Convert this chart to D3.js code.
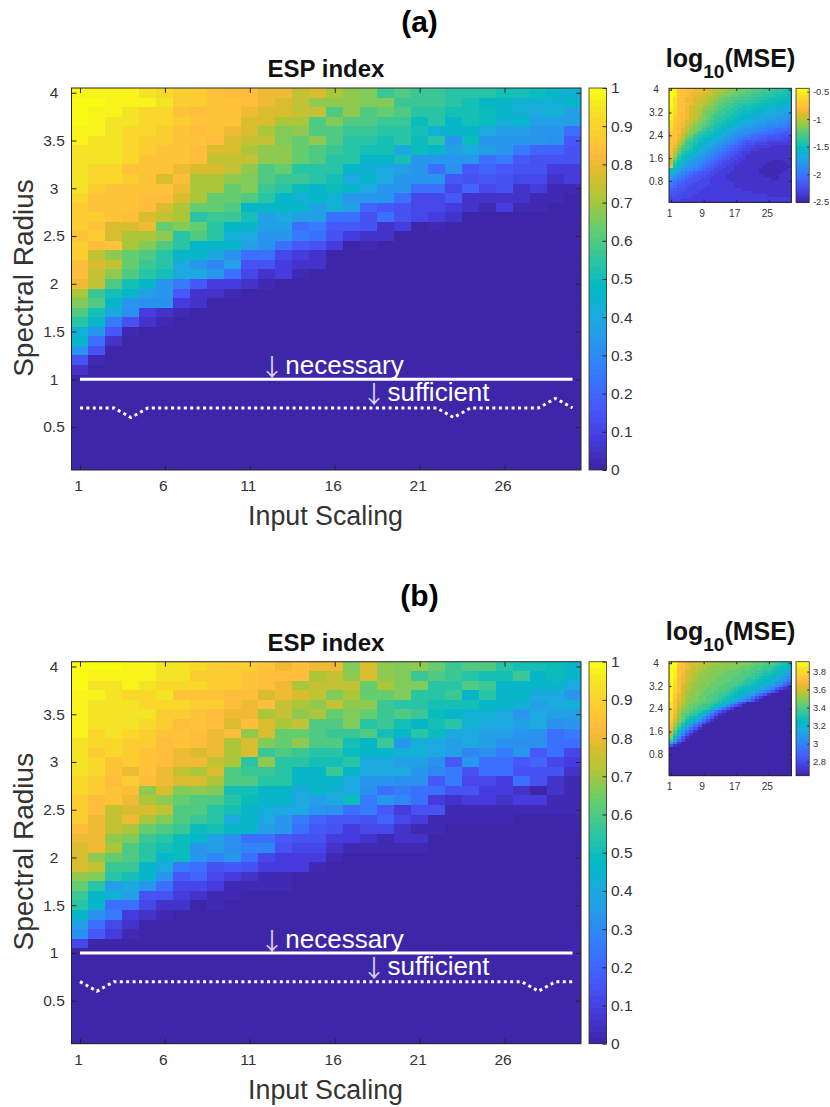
<!DOCTYPE html>
<html>
<head>
<meta charset="utf-8">
<script src="https://cdnjs.cloudflare.com/ajax/libs/d3/7.8.5/d3.min.js"></script>
<style>
  html, body { margin: 0; padding: 0; background: #fff; }
  text { font-family: "Liberation Sans", Arial, sans-serif; fill: #333; }
  .domain { display: none; }
  .tick line { stroke: #262626; stroke-width: 1; }
</style>
</head>
<body>
<div id="visualization"></div>
<script>
// one string per row, top row (radius 4.0) first,
// one base 36 digit per input scaling 1..30: 0 = bottom of colour bar, z = top
const espA = [
  "yyyyxwvvuttssqrponklkkjjjiihgf",
  "zzyyyxvvuutsrqooonnkkkjiggfffg",
  "zyyxwwutuusrrqqlolmljjiihgfefd",
  "zyxxwwvuuurrpplnllkkhjgihfgddd",
  "yyxwwvutusrpnollkkjjifggeddcc8",
  "yxxwvvuutrqqnmoljjijhjchccccb6",
  "xxxwvuutrrpoomlkjiiehgdedc9775",
  "xxxwuuutqqqoomljjggicccc896555",
  "xwwuuusrrqolmjjjgfedc8b6765533",
  "xwwvurtpponlkkjiegeccc65654423",
  "xvuuuusppmnkjhghgecc8847452311",
  "wuuuttrpmmljgfgfccc84462222110",
  "vuuutrpmmlggggdfd7654432131100",
  "vvutrqpjkkidedd885854320000000",
  "vurrsmnmjggdd89665230100000000",
  "uvrppojljfecc98532200000000000",
  "vtupnljgggdb865301000000000000",
  "vqomljggeb88432000000000000000",
  "trqmkjecad55322000000000000000",
  "tqoljieec842310000000000000000",
  "sqligc963321000000000000000000",
  "pkigdc622100000000000000000000",
  "nlgcbb320000000000000000000000",
  "lieb32100000000000000000000000",
  "jg9521000000000000000000000000",
  "fc6100000000000000000000000000",
  "g82000000000000000000000000000",
  "c50000000000000000000000000000",
  "510000000000000000000000000000",
  "200000000000000000000000000000",
  "000000000000000000000000000000",
  "000000000000000000000000000000",
  "000000000000000000000000000000",
  "000000000000000000000000000000",
  "000000000000000000000000000000",
  "000000000000000000000000000000",
  "000000000000000000000000000000",
  "000000000000000000000000000000",
  "000000000000000000000000000000",
  "000000000000000000000000000000"
];
const espB = [
  "zzzyyxxwvvvustssnronomklljiihg",
  "zyyyyxxvvvutttpqoronklkjiikghg",
  "zxxyxwwwvvutspqqqmpnnjjlkgggge",
  "yyxwwxuuuttrsrqnpmmnjjkgjggeec",
  "yxxxwwwvvtstqpoqookjjiiiggfdef",
  "yxxxxvvutsspqopmnmklkhgffecedd",
  "yxxxwvtutrtrpqllnjkigijfeedebc",
  "ywxwvuutstormmlkkligjheeddcb89",
  "xwwvvtutsprnmolligkcfededbbb88",
  "xvwvutsrsprklkjjhggffedab9c684",
  "xwuvutssqpjojjiijeeddb6c886743",
  "xwususqprlkkjggkgeeeca95885552",
  "wvtvtsrrplljjgggeccbb694438521",
  "wvutornoniiggegfeb898855332021",
  "vtuspomlljhggedeh9ca8323323311",
  "vtqrrqlljigfeecb89635511111111",
  "vsqspnlkjegec97665743111110000",
  "tsqpmlkhiggdc86534421100000000",
  "ssonkjhgdb88655332122000000000",
  "rspljihcdbaa544211111000000000",
  "romljghcac84333100000000000000",
  "rqkkge985653331000000000000000",
  "onjigc674321100000000000000000",
  "mjdec8443111100000000000000000",
  "kgfd55321100000000000000000000",
  "jg8842201000000000000000000000",
  "gb9321000000000000000000000000",
  "d84200000000000000000000000000",
  "b63100000000000000000000000000",
  "400000000000000000000000000000",
  "000000000000000000000000000000",
  "000000000000000000000000000000",
  "000000000000000000000000000000",
  "000000000000000000000000000000",
  "000000000000000000000000000000",
  "000000000000000000000000000000",
  "000000000000000000000000000000",
  "000000000000000000000000000000",
  "000000000000000000000000000000",
  "000000000000000000000000000000"
];
const mseA = [
  "zyuuttsssrqqpponnmmmlllkkkjjji",
  "zyuutsssrrqpponnmmmlllkkkjjjii",
  "zyuutssrrqqponnmmlllkkkjjjiiih",
  "zxutssrrqpponmmlllkkkjjjiiihhh",
  "zxutssrqqponmmllkkkjjjiiihhhgg",
  "zxuttsrqpponmllkkjjjiiihhhgggf",
  "zxutsrqqponmllkkjjiiihhhgggfff",
  "yxutsrqponnmlkkjjiiihhggfffeee",
  "ywutsrqpnmmlkkjjiihhgggffeeedd",
  "ywutsrqpnmlkkjjiihggfffeeeddcc",
  "yvutsrqonmlkjjiihggfeeedddcccb",
  "xvutrqpnmlkjjihhgffeedddcccbba",
  "xutsrqonmlkjiihggfeeddccbbbaa9",
  "xutsqpnmlkjiihgffeddccbbaaa998",
  "wutrqonmkjjihgfeedccbbaa998887",
  "vutrpnmkjiihgfedccbba998887766",
  "uusqomkjiihgfedcbaa98877666555",
  "uusqmljihggfedcba9887766555544",
  "utrolkjhgffedcba98766555444443",
  "utqnkjigfeedcba987655444333333",
  "usplkjhgfedcba9876544333322222",
  "trnkjigfedcba98765443322222222",
  "tqmjihgedcba987654332222222222",
  "spkihgfdcba9876544322222222222",
  "smjhgedcba98765443322222222222",
  "qkihfdcba987654433222222211122",
  "pjhfdcba987654433222222211111"+"2",
  "sihedcb98765443322222221111111"+"2",
  "hgecba987654433322222211111112"+"",
  "geca98765544333222222211111122",
  "eca987655443332222222221111222",
  "ca9876554433332222222222211222",
  "a98765544433333222222222222222",
  "987655444433333322222222222222",
  "876654444333333322222222222222",
  "765544443333333333222222222222",
  "655444433333333333332222222222",
  "554444333333333333333333222222",
  "444443333333333333333333333333",
  "444333333333333333333333333333"
];
const mseB = [
  "zzutsrrqqpppoooonnnnmmmlllkjih",
  "zzutsrqqppoooonnnnmmmlllkkjihg",
  "zzutsrqppoooonnnnmmmlllkkjihgg",
  "zyutrqqpoonnnnmmmmlllkkjjihgfe",
  "zyusrqpooonnnmmmmlllkkjiihgfed",
  "zytsrqpoonnnmmmmlllkkjihhgfecb",
  "zxtsrqpoonnmmmmlllkjjihggfecb9",
  "zxtsqpoonnmmmmlllkjjihggfecb86",
  "zwtrqpoonnmmmlllkjiihgfedcb853",
  "ywtrqponnmmmlllkjihhgfedca6421",
  "ywtrpoonmmmlllkjihgfedca853000",
  "yvsqpoonmmllkkjihgfeda85200000",
  "yvsqponmmlllkjihgfdb8530000000",
  "yusqonnmmllkjihgeca85200000000",
  "xurqonmmllkjigfda6300000000000",
  "xurpnmmlkkjhgeb853000000000000",
  "xtqonmlkkjhfb85300000000000000",
  "wtpnmlkjhfc8531000000000000000",
  "wspmlkjhfb85210000000000000000",
  "wsomkihfb852000000000000000000",
  "vrnlihfc8520000000000000000000",
  "uqmjgeb85200000000000000000000",
  "tpligc851000000000000000000000",
  "snjfb8520000000000000000000000",
  "rlgc85200000000000000000000000",
  "pjea52000000000000000000000000",
  "ngb520000000000000000000000000",
  "kd7410000000000000000000000000",
  "f83000000000000000000000000000",
  "521000000000000000000000000000",
  "000000000000000000000000000000",
  "000000000000000000000000000000",
  "000000000000000000000000000000",
  "000000000000000000000000000000",
  "000000000000000000000000000000",
  "000000000000000000000000000000",
  "000000000000000000000000000000",
  "000000000000000000000000000000",
  "000000000000000000000000000000",
  "000000000000000000000000000000"
];

const inputScaling = d3.range(1, 31);
const necessary = [1, 1, 1, 1, 1, 1, 1, 1, 1, 1, 1, 1, 1, 1, 1, 1, 1, 1, 1, 1, 1, 1, 1, 1, 1, 1, 1, 1, 1, 1];
const sufficientA = [0.7, 0.7, 0.7, 0.6, 0.7, 0.7, 0.7, 0.7, 0.7, 0.7, 0.7, 0.7, 0.7, 0.7, 0.7, 0.7, 0.7, 0.7, 0.7, 0.7, 0.7, 0.7, 0.6, 0.7, 0.7, 0.7, 0.7, 0.7, 0.8, 0.7];
const sufficientB = [0.7, 0.6, 0.7, 0.7, 0.7, 0.7, 0.7, 0.7, 0.7, 0.7, 0.7, 0.7, 0.7, 0.7, 0.7, 0.7, 0.7, 0.7, 0.7, 0.7, 0.7, 0.7, 0.7, 0.7, 0.7, 0.7, 0.7, 0.6, 0.7, 0.7];

const mainXTicks = [1, 6, 11, 16, 21, 26];
const mainYTicks = [0.5, 1, 1.5, 2, 2.5, 3, 3.5, 4];
const espBarTicks = [0, 0.1, 0.2, 0.3, 0.4, 0.5, 0.6, 0.7, 0.8, 0.9, 1];
const smallXTicks = [1, 9, 17, 25];
const smallYTicks = [0.8, 1.6, 2.4, 3.2, 4];
const mseBarTicksA = [-2.5, -2, -1.5, -1, -0.5];
const mseBarTicksB = [2.8, 3, 3.2, 3.4, 3.6, 3.8];
const mseRangeA = [-2.51, -0.44];
const mseRangeB = [2.644, 3.91];

// parula, picked entries of the 64 level map
const parulaIdx = [0, 5, 10, 15, 20, 25, 30, 35, 40, 45, 50, 52, 53, 55, 60, 63];
const parulaCol = ["#3e26a8", "#463cde", "#4758f8", "#3875fe", "#2b91ef", "#1ca9df", "#02bac3", "#31c69f", "#64cd6f", "#abc739", "#e6bb2d", "#f8ba3d", "#febe3c", "#fec833", "#f5e326", "#f9fb15"];
const parula = d3.scaleLinear().domain(parulaIdx).range(parulaCol);
const level = t => parula(Math.min(63, Math.floor(t * 64)));

const svg = d3.select("#visualization").append("svg")
    .attr("width", 830)
    .attr("height", 1107)
    .style("display", "block");

function heatmap(rows, box, xTicks, yTicks, fontSize, tickLen, yLabelX, xLabelY) {
    const x = d3.scaleLinear().domain([0.5, 30.5]).range([box.left, box.right]);
    const y = d3.scaleLinear().domain([0.05, 4.05]).range([box.bottom, box.top]);
    const g = svg.append("g");

    rows.forEach((row, r) => {
        const radius = (40 - r) / 10;
        inputScaling.forEach((s, c) => {
            g.append("rect")
                .attr("x", x(s - 0.5))
                .attr("y", y(radius + 0.05))
                .attr("width", x(s + 0.5) - x(s - 0.5) + 0.4)
                .attr("height", y(radius - 0.05) - y(radius + 0.05) + 0.4)
                .attr("shape-rendering", "crispEdges")
                .attr("fill", level(parseInt(row[c], 36) / 35));
        });
    });

    g.append("g").attr("transform", `translate(0,${box.bottom})`)
        .call(d3.axisBottom(x).tickValues(xTicks).tickSize(-tickLen).tickPadding(xLabelY).tickFormat(String))
        .call(a => a.selectAll("text").attr("font-size", fontSize).attr("dx", -2));
    g.append("g").attr("transform", `translate(0,${box.top})`)
        .call(d3.axisTop(x).tickValues(xTicks).tickSize(-tickLen).tickFormat(""));
    g.append("g").attr("transform", `translate(${box.left},0)`)
        .call(d3.axisLeft(y).tickValues(yTicks).tickSize(-tickLen).tickFormat(String))
        .call(a => a.selectAll("text").attr("font-size", fontSize)
            .attr("text-anchor", "middle").attr("x", yLabelX - box.left));
    g.append("g").attr("transform", `translate(${box.right},0)`)
        .call(d3.axisRight(y).tickValues(yTicks).tickSize(-tickLen).tickFormat(""));

    g.append("rect")
        .attr("x", box.left).attr("y", box.top)
        .attr("width", box.right - box.left).attr("height", box.bottom - box.top)
        .attr("fill", "none").attr("stroke", "#262626").attr("stroke-width", 1);
    return { x, y };
}

function colorbar(box, range, ticks, fontSize, tickLen, labelX) {
    const y = d3.scaleLinear().domain(range).range([box.bottom, box.top]);
    const g = svg.append("g");
    const t = d3.scaleLinear().domain([0, 64]).range([box.bottom, box.top]);
    d3.range(64).forEach(i => {
        g.append("rect")
            .attr("x", box.left)
            .attr("y", t(i + 1))
            .attr("width", box.right - box.left)
            .attr("height", t(i) - t(i + 1) + 0.4)
            .attr("shape-rendering", "crispEdges")
            .attr("fill", parula(i));
    });
    g.append("g").attr("transform", `translate(${box.right},0)`)
        .call(d3.axisRight(y).tickValues(ticks).tickSize(-tickLen).tickFormat(String))
        .call(a => a.selectAll("text").attr("font-size", fontSize).attr("x", labelX - box.right));
    g.append("rect")
        .attr("x", box.left).attr("y", box.top)
        .attr("width", box.right - box.left).attr("height", box.bottom - box.top)
        .attr("fill", "none").attr("stroke", "#333").attr("stroke-width", 0.8);
}

function label(txt, x, y, size, weight, fill) {
    return svg.append("text")
        .attr("x", x).attr("y", y)
        .attr("text-anchor", "middle")
        .attr("font-size", size)
        .attr("font-weight", weight || "normal")
        .style("fill", fill || "#333")
        .text(txt);
}

function arrow(x, y) {
    label("\u2193", x, y, 24, "normal", "#fff")
        .style("font-family", '"Noto Sans CJK JP"')
        .attr("opacity", 0.8);
}

function panel(letter, dy, esp, mse, sufficient, mseRange, mseTicks, mseTop) {
    label(letter, 419.5, 32 + dy, 30, "bold", "#000");
    label("ESP index", 326, 77 + dy, 24, "bold", "#111");

    const main = { left: 71.5, right: 581, top: 88 + dy, bottom: 470 + dy };
    const { x, y } = heatmap(esp, main, mainXTicks, mainYTicks, 15.5, 5, 54, 10);
    colorbar({ left: 589, right: 606.5, top: main.top, bottom: main.bottom }, [0, 1], espBarTicks, 15.5, 4, 611);

    const line = d3.line().x((d, i) => x(inputScaling[i])).y(d => y(d));
    svg.append("path").datum(necessary)
        .attr("d", line).attr("fill", "none")
        .attr("stroke", "#fff").attr("stroke-width", 3);
    svg.append("path").datum(sufficient)
        .attr("d", line).attr("fill", "none")
        .attr("stroke", "#fff").attr("stroke-width", 3)
        .attr("stroke-dasharray", "3,3.4");

    arrow(272, y(1) - 3);
    label("necessary", 344.5, y(1) - 5, 26, "normal", "#fff");
    arrow(374, y(1) + 24);
    label("sufficient", 438.5, y(1) + 22, 26, "normal", "#fff");

    label("Input Scaling", 325.5, 525 + dy, 26.8);
    label("Spectral Radius", 0, 0, 28)
        .attr("transform", `translate(33,${278 + dy}) rotate(-90)`);

    const small = { left: 669, right: 791.3, top: mseTop, bottom: mseTop + 114 };
    heatmap(mse, small, smallXTicks, smallYTicks, 10.2, 2.5, 656, 7);
    colorbar({ left: 796, right: 809.3, top: small.top, bottom: small.bottom }, mseRange, mseTicks, 9.4, 2, 813);

    const title = svg.append("text")
        .attr("x", 730.5).attr("y", mseTop - 21.5)
        .attr("text-anchor", "middle")
        .attr("font-size", 25).attr("font-weight", "bold")
        .style("fill", "#111");
    title.append("tspan").text("log");
    title.append("tspan").attr("dy", 11).attr("font-size", 19).text("10");
    title.append("tspan").attr("dy", -11).text("(MSE)");
}

panel("(a)", 0, espA, mseA, sufficientA, mseRangeA, mseBarTicksA, 88.3);
panel("(b)", 573.7, espB, mseB, sufficientB, mseRangeB, mseBarTicksB, 661.7);
</script>
</body>
</html>
